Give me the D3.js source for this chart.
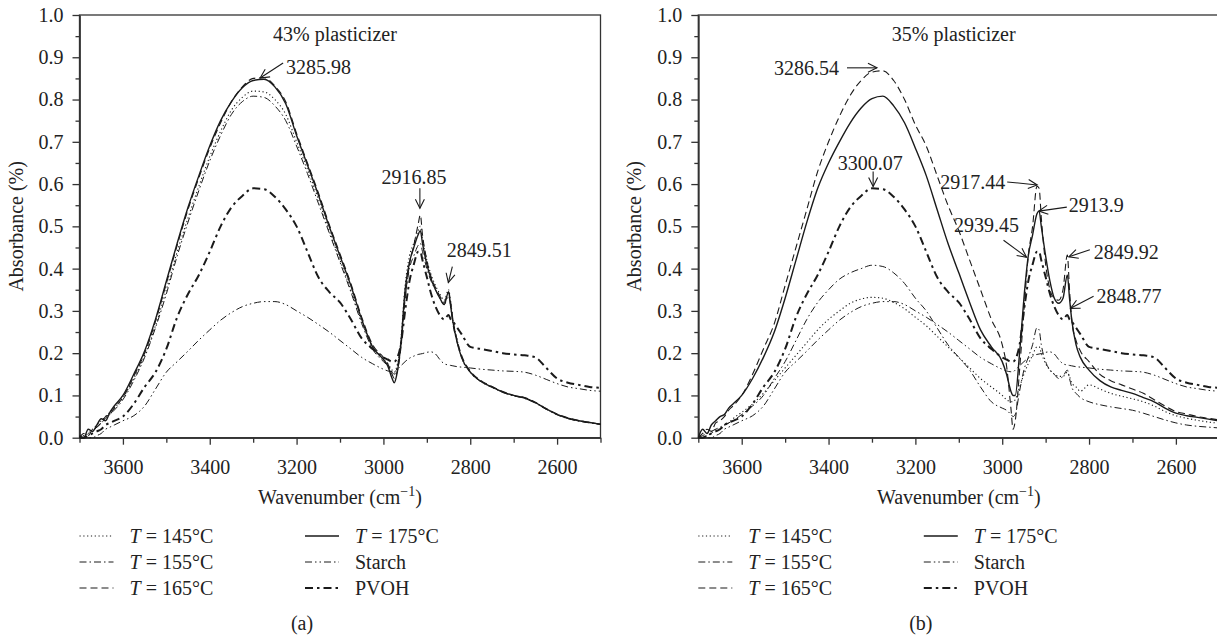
<!DOCTYPE html>
<html>
<head>
<meta charset="utf-8">
<script src="https://cdn.jsdelivr.net/npm/d3@7"></script>
<style>
    body { margin: 0; background: #fff; }
    svg { display: block; font-family: "Liberation Serif", "DejaVu Serif", serif; }
    .axis text { font-size: 20px; fill: #222; }
    .axis path, .axis line { stroke: #333; stroke-width: 1.3; }
    .lbl { font-size: 20px; fill: #222; }
</style>
</head>
<body>
<div id="chart"></div>
<script>
// wavenumber grid (cm-1) shared by all spectra
const wavenumbers = [3700, 3690, 3680, 3670, 3660, 3650, 3640, 3630, 3620,
    3600, 3575, 3550, 3525, 3500, 3475, 3450, 3425, 3400, 3375, 3350, 3325, 3300, 3275, 3250,
    3225, 3200, 3175, 3150, 3125, 3100, 3075, 3050, 3025, 3000,
    2990, 2980, 2975, 2970, 2960, 2950, 2940, 2930, 2920, 2915, 2910, 2900, 2890, 2880, 2870,
    2860, 2850, 2845, 2840, 2830, 2820,
    2800, 2775, 2750, 2725, 2700, 2675, 2650, 2625, 2600, 2575, 2550, 2525, 2500];

// panel (a), 43% plasticizer
const a145 = [0.0, 0.005, 0.01, 0.02, 0.03, 0.04, 0.05, 0.06, 0.07,
    0.095, 0.14, 0.195, 0.265, 0.35, 0.44, 0.52, 0.595, 0.665, 0.725, 0.775, 0.805, 0.82, 0.818, 0.80,
    0.765, 0.70, 0.635, 0.565, 0.49, 0.42, 0.35, 0.275, 0.215, 0.185,
    0.175, 0.16, 0.155, 0.165, 0.23, 0.36, 0.43, 0.46, 0.49, 0.50, 0.47, 0.42, 0.385, 0.36, 0.34,
    0.325, 0.35, 0.32, 0.28, 0.23, 0.19,
    0.155, 0.133, 0.12, 0.108, 0.10, 0.094, 0.083, 0.068, 0.055, 0.046, 0.04, 0.036, 0.032];
const a155 = [0.0, 0.0, 0.01, 0.015, 0.025, 0.035, 0.045, 0.055, 0.065,
    0.09, 0.135, 0.19, 0.26, 0.34, 0.43, 0.51, 0.585, 0.655, 0.715, 0.765, 0.795, 0.808, 0.805, 0.785,
    0.75, 0.69, 0.625, 0.555, 0.485, 0.415, 0.345, 0.27, 0.21, 0.18,
    0.17, 0.155, 0.15, 0.16, 0.22, 0.33, 0.40, 0.43, 0.455, 0.46, 0.44, 0.40, 0.37, 0.35, 0.33,
    0.315, 0.335, 0.31, 0.27, 0.225, 0.19,
    0.155, 0.132, 0.119, 0.107, 0.099, 0.093, 0.082, 0.067, 0.054, 0.045, 0.039, 0.035, 0.031];
const a165 = [0.0, 0.01, 0.005, 0.02, 0.025, 0.035, 0.05, 0.055, 0.07,
    0.095, 0.145, 0.20, 0.275, 0.365, 0.455, 0.54, 0.615, 0.685, 0.745, 0.795, 0.83, 0.85, 0.852, 0.832,
    0.795, 0.72, 0.65, 0.58, 0.505, 0.435, 0.365, 0.285, 0.22, 0.19,
    0.175, 0.15, 0.14, 0.15, 0.21, 0.33, 0.41, 0.455, 0.505, 0.527, 0.48, 0.42, 0.38, 0.355, 0.335,
    0.32, 0.345, 0.32, 0.28, 0.23, 0.195,
    0.158, 0.135, 0.121, 0.109, 0.10, 0.095, 0.084, 0.069, 0.056, 0.047, 0.041, 0.036, 0.032];
const a175 = [0.005, 0.0, 0.02, 0.015, 0.03, 0.045, 0.04, 0.06, 0.075,
    0.10, 0.15, 0.205, 0.28, 0.37, 0.46, 0.545, 0.62, 0.69, 0.75, 0.795, 0.828, 0.845, 0.848, 0.83,
    0.79, 0.715, 0.645, 0.575, 0.50, 0.43, 0.36, 0.28, 0.215, 0.185,
    0.17, 0.14, 0.13, 0.145, 0.22, 0.35, 0.415, 0.45, 0.48, 0.49, 0.46, 0.41, 0.375, 0.35, 0.33,
    0.315, 0.345, 0.31, 0.275, 0.225, 0.19,
    0.155, 0.133, 0.12, 0.108, 0.10, 0.094, 0.083, 0.068, 0.055, 0.046, 0.04, 0.036, 0.032];

// panel (b), 35% plasticizer
const b145 = [0.0, 0.0, 0.005, 0.01, 0.02, 0.02, 0.03, 0.035, 0.045,
    0.06, 0.08, 0.105, 0.135, 0.165, 0.195, 0.225, 0.255, 0.28, 0.30, 0.318, 0.328, 0.332, 0.33, 0.32,
    0.305, 0.285, 0.265, 0.24, 0.215, 0.19, 0.165, 0.14, 0.12, 0.10,
    0.09, 0.085, 0.085, 0.09, 0.12, 0.15, 0.175, 0.195, 0.215, 0.215, 0.20, 0.175, 0.16, 0.15, 0.145,
    0.145, 0.155, 0.145, 0.13, 0.12, 0.11,
    0.125, 0.115, 0.105, 0.098, 0.092, 0.085, 0.075, 0.062, 0.052, 0.046, 0.041, 0.037, 0.034];
const b155 = [0.0, 0.005, 0.01, 0.015, 0.02, 0.025, 0.03, 0.035, 0.04,
    0.055, 0.075, 0.10, 0.14, 0.18, 0.23, 0.28, 0.32, 0.35, 0.375, 0.39, 0.40, 0.408, 0.405, 0.39,
    0.365, 0.33, 0.30, 0.26, 0.22, 0.19, 0.16, 0.12, 0.085, 0.07,
    0.065, 0.055, 0.05, 0.055, 0.11, 0.16, 0.19, 0.22, 0.26, 0.255, 0.22, 0.18, 0.16, 0.15, 0.14,
    0.145, 0.16, 0.14, 0.12, 0.105, 0.095,
    0.085, 0.078, 0.073, 0.069, 0.065, 0.058, 0.05, 0.042, 0.035, 0.03, 0.027, 0.025, 0.023];
const b165 = [0.0, 0.01, 0.02, 0.015, 0.035, 0.04, 0.05, 0.065, 0.075,
    0.10, 0.15, 0.21, 0.27, 0.36, 0.45, 0.54, 0.63, 0.70, 0.76, 0.81, 0.845, 0.865, 0.868, 0.845,
    0.80, 0.74, 0.69, 0.62, 0.55, 0.49, 0.42, 0.35, 0.28, 0.22,
    0.17, 0.07, 0.02, 0.04, 0.16, 0.30, 0.43, 0.50, 0.595, 0.59, 0.52, 0.41, 0.35, 0.33, 0.325,
    0.35, 0.432, 0.35, 0.28, 0.23, 0.205,
    0.18, 0.15, 0.135, 0.125, 0.115, 0.105, 0.09, 0.075, 0.062, 0.056, 0.05, 0.046, 0.042];
const b175 = [0.0, 0.02, 0.01, 0.03, 0.04, 0.05, 0.055, 0.07, 0.08,
    0.10, 0.14, 0.19, 0.25, 0.33, 0.42, 0.51, 0.59, 0.65, 0.70, 0.745, 0.78, 0.802, 0.808, 0.785,
    0.745, 0.685, 0.62, 0.54, 0.46, 0.39, 0.32, 0.255, 0.215, 0.18,
    0.15, 0.11, 0.10, 0.10, 0.20, 0.33, 0.43, 0.48, 0.53, 0.536, 0.50, 0.43, 0.37, 0.33, 0.318,
    0.33, 0.385, 0.33, 0.28, 0.22, 0.19,
    0.16, 0.135, 0.12, 0.112, 0.105, 0.095, 0.085, 0.07, 0.058, 0.052, 0.048, 0.044, 0.04];

// reference materials, same in both panels
const starch = [0.0, 0.0, 0.0, 0.0, 0.005, 0.01, 0.02, 0.025, 0.03,
    0.04, 0.052, 0.075, 0.115, 0.155, 0.18, 0.205, 0.231, 0.255, 0.278, 0.296, 0.31, 0.318, 0.322, 0.322,
    0.315, 0.30, 0.285, 0.268, 0.25, 0.23, 0.21, 0.19, 0.175, 0.162,
    0.158, 0.156, 0.156, 0.16, 0.17, 0.18, 0.188, 0.193, 0.197, 0.198, 0.199, 0.202, 0.203, 0.198, 0.185,
    0.175, 0.172, 0.171, 0.17, 0.168, 0.167,
    0.165, 0.162, 0.16, 0.158, 0.157, 0.155, 0.148, 0.138, 0.128, 0.12, 0.116, 0.112, 0.11];
const pvoh = [0.0, 0.0, 0.005, 0.01, 0.015, 0.02, 0.03, 0.035, 0.04,
    0.05, 0.08, 0.12, 0.155, 0.21, 0.285, 0.34, 0.385, 0.44, 0.50, 0.545, 0.572, 0.59, 0.588, 0.57,
    0.54, 0.50, 0.44, 0.38, 0.345, 0.32, 0.28, 0.235, 0.21, 0.19,
    0.185, 0.18, 0.18, 0.185, 0.22, 0.30, 0.37, 0.41, 0.44, 0.44, 0.42, 0.38, 0.34, 0.31, 0.29,
    0.28, 0.29, 0.28, 0.275, 0.26, 0.245,
    0.215, 0.21, 0.205, 0.20, 0.197, 0.195, 0.19, 0.165, 0.14, 0.13, 0.125, 0.12, 0.118];

const seriesNames = ["T = 145°C", "T = 155°C", "T = 165°C", "T = 175°C", "Starch", "PVOH"];
const xTickValues = [3600, 3400, 3200, 3000, 2800, 2600];
const xMinorValues = [3700, 3500, 3300, 3100, 2900, 2700, 2500];
const yTickValues = [0, 0.1, 0.2, 0.3, 0.4, 0.5, 0.6, 0.7, 0.8, 0.9, 1.0];
const yMinorValues = [0.05, 0.15, 0.25, 0.35, 0.45, 0.55, 0.65, 0.75, 0.85, 0.95];

// peak labels: tip at (wavenumber, absorbance), tail and text offset in px
const notesA = [
    { label: "3285.98", wn: 3284, ab: 0.851, tail: [23, -15], text: [26, -4], anchor: "start" },
    { label: "2916.85", wn: 2916, ab: 0.543, tail: [0, -20], text: [-6, -24], anchor: "middle" },
    { label: "2849.51", wn: 2850.5, ab: 0.367, tail: [4, -16], text: [31, -26], anchor: "middle" }
];
const notesB = [
    { label: "3286.54", wn: 3288.5, ab: 0.875, tail: [-30, 0], text: [-38, 7], anchor: "end" },
    { label: "3300.07", wn: 3297.3, ab: 0.594, tail: [0, -15], text: [-3, -17], anchor: "middle" },
    { label: "2917.44", wn: 2919.4, ab: 0.598, tail: [-30, -3], text: [-32, 4], anchor: "end" },
    { label: "2913.9", wn: 2915.7, ab: 0.536, tail: [28, -4], text: [30, 1], anchor: "start" },
    { label: "2939.45", wn: 2944, ab: 0.427, tail: [-23, -17], text: [-40, -25], anchor: "middle" },
    { label: "2849.92", wn: 2846.5, ab: 0.428, tail: [21, -7], text: [25, 2], anchor: "start" },
    { label: "2848.77", wn: 2842.5, ab: 0.306, tail: [23, -12], text: [26, -5], anchor: "start" }
];

const width = 1217;
const height = 639;
const plotW = 521;
const plotH = 422.7;
const plotTop = 15;
const ink = "#1a1a1a";
const serif = '"Liberation Serif", "DejaVu Serif", serif';

// dash / width per series, same order as seriesNames
const lineStyles = [
    { dash: "1.2,2.6", w: 1.1 },
    { dash: "7,3,1.5,3", w: 1 },
    { dash: "7,4", w: 1.1 },
    { dash: null, w: 1.4 },
    { dash: "7,3,1.5,3,1.5,3", w: 1 },
    { dash: "8,4,2.5,4", w: 2 }
];

const xScale = d3.scaleLinear().domain([3700, 2500]).range([0, plotW]);
const yScale = d3.scaleLinear().domain([0, 1]).range([plotH, 0]);

const svg = d3.select("#chart").append("svg")
    .attr("width", width)
    .attr("height", height);

svg.append("defs").append("marker")
    .attr("id", "arrow")
    .attr("markerUnits", "userSpaceOnUse")
    .attr("viewBox", "-10 -6 12 12")
    .attr("markerWidth", 12)
    .attr("markerHeight", 12)
    .attr("refX", 0)
    .attr("refY", 0)
    .attr("orient", "auto")
    .append("path")
    .attr("d", "M-9,-4.5L0,0L-9,4.5")
    .attr("fill", "none")
    .attr("stroke", ink)
    .attr("stroke-width", 1.1);

const line = d3.line()
    .x((d, i) => xScale(wavenumbers[i]))
    .y(d => yScale(d))
    .curve(d3.curveMonotoneX);

const drawLegendText = (sel, name) => {
    if (name.startsWith("T =")) {
        sel.append("tspan").attr("font-style", "italic").text("T");
        sel.append("tspan").text(name.slice(1));
    } else {
        sel.text(name);
    }
};

// d3 axes put font-family="sans-serif" on their group, so reset it
const addAxis = (g, axis, shift) => {
    const ag = g.append("g")
        .attr("class", "axis")
        .attr("transform", shift ? `translate(0, ${shift})` : null)
        .call(axis)
        .attr("font-family", serif)
        .attr("font-size", 20);
    ag.selectAll("text").attr("font-family", serif);
    return ag;
};

const drawPanel = (left, title, letter, series, notes) => {
    const g = svg.append("g").attr("transform", `translate(${left}, ${plotTop})`);

    g.append("rect")
        .attr("width", plotW)
        .attr("height", plotH)
        .attr("fill", "none")
        .attr("stroke", "#333")
        .attr("stroke-width", 1.3);

    addAxis(g, d3.axisBottom(xScale).tickValues(xMinorValues).tickSize(5).tickSizeOuter(0).tickFormat(""), plotH);
    addAxis(g, d3.axisBottom(xScale).tickValues(xTickValues).tickSize(7).tickSizeOuter(0)
        .tickPadding(15).tickFormat(d3.format("d")), plotH);
    addAxis(g, d3.axisLeft(yScale).tickValues(yMinorValues).tickSize(4).tickSizeOuter(0).tickFormat(""));
    addAxis(g, d3.axisLeft(yScale).tickValues(yTickValues).tickSize(7).tickSizeOuter(0)
        .tickPadding(9).tickFormat(d3.format(".1f")));

    g.selectAll(".spectrum")
        .data(series)
        .join("path")
        .attr("class", "spectrum")
        .attr("d", line)
        .attr("fill", "none")
        .attr("stroke", ink)
        .attr("stroke-width", (d, i) => lineStyles[i].w)
        .attr("stroke-dasharray", (d, i) => lineStyles[i].dash)
        .attr("stroke-linejoin", "round");

    g.append("text")
        .attr("class", "lbl")
        .attr("x", 193.5)
        .attr("y", 26)
        .text(title);

    notes.forEach(n => {
        const tx = xScale(n.wn);
        const ty = yScale(n.ab);
        g.append("line")
            .attr("x1", tx + n.tail[0])
            .attr("y1", ty + n.tail[1])
            .attr("x2", tx)
            .attr("y2", ty)
            .attr("stroke", ink)
            .attr("stroke-width", 1.1)
            .attr("marker-end", "url(#arrow)");
        g.append("text")
            .attr("class", "lbl")
            .attr("x", tx + n.text[0])
            .attr("y", ty + n.text[1])
            .attr("text-anchor", n.anchor)
            .text(n.label);
    });

    // axis titles
    const xl = g.append("text")
        .attr("class", "lbl")
        .attr("x", plotW / 2)
        .attr("y", plotH + 66)
        .attr("text-anchor", "middle");
    xl.append("tspan").text("Wavenumber (cm");
    xl.append("tspan").attr("dy", -8).attr("font-size", 14).text("−1");
    xl.append("tspan").attr("dy", 8).text(")");

    g.append("text")
        .attr("class", "lbl")
        .attr("transform", `translate(-57, ${plotH / 2}) rotate(-90)`)
        .attr("text-anchor", "middle")
        .text("Absorbance (%)");

    // legend
    const leg = g.append("g").attr("transform", `translate(0, ${536 - plotTop})`);
    seriesNames.forEach((name, i) => {
        const col = Math.floor(i / 3);
        const row = i % 3;
        const lx = col * 225.5;
        const ly = row * 26;
        leg.append("line")
            .attr("x1", lx)
            .attr("x2", lx + 34)
            .attr("y1", ly)
            .attr("y2", ly)
            .attr("stroke", ink)
            .attr("stroke-width", lineStyles[i].w)
            .attr("stroke-dasharray", lineStyles[i].dash);
        const t = leg.append("text")
            .attr("class", "lbl")
            .attr("x", lx + 50)
            .attr("y", ly + 7);
        drawLegendText(t, name);
    });

    g.append("text")
        .attr("class", "lbl")
        .attr("x", 222.5)
        .attr("y", 630 - plotTop)
        .attr("text-anchor", "middle")
        .text(`(${letter})`);
};

drawPanel(79.5, "43% plasticizer", "a", [a145, a155, a165, a175, starch, pvoh], notesA);
drawPanel(698.3, "35% plasticizer", "b", [b145, b155, b165, b175, starch, pvoh], notesB);
</script>
</body>
</html>
